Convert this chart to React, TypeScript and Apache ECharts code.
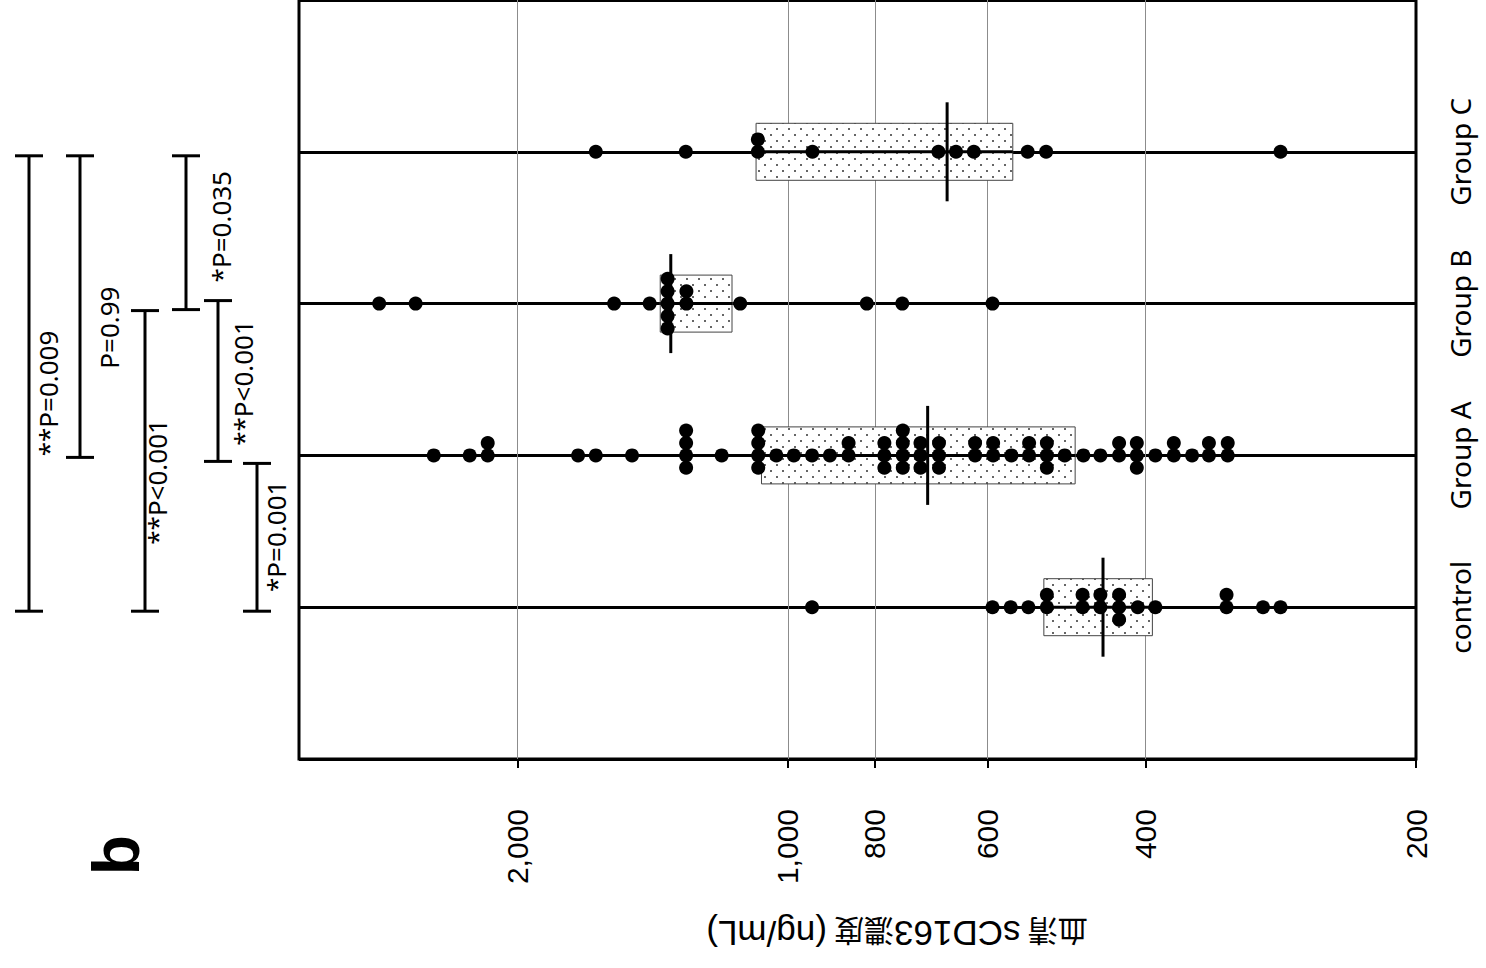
import React, { useEffect, useRef } from 'react';
import * as echarts from 'echarts';

// ---------- data ----------
const categories = ['', 'control', 'Group A', 'Group B', 'Group C', ' '];
const groupNames = ['control', 'Group A', 'Group B', 'Group C'];

const controlValues = [940, 592, 565, 540, 515, 515, 470, 470, 449, 449, 428, 428, 428, 408, 390, 325, 325, 296, 283];
const groupAValues = [
  2478, 2260, 2158, 2158, 1712, 1636, 1491, 1298, 1298, 1298, 1298, 1185, 1079, 1079, 1079, 1079,
  1030, 985, 940, 898, 856, 856, 781, 781, 781, 745, 745, 745, 745, 712, 712, 712, 679, 679, 679,
  619, 619, 591, 591, 564, 539, 539, 515, 515, 515, 492, 469, 449, 428, 428, 409, 409, 409, 390,
  372, 372, 355, 340, 340, 324, 324,
];
const groupBValues = [2850, 2596, 1561, 1425, 1361, 1361, 1361, 1361, 1361, 1297, 1297, 1130, 817, 746, 592];
const groupCValues = [1636, 1299, 1080, 1080, 939, 680, 650, 621, 541, 516, 283];
const groupValues = [controlValues, groupAValues, groupBValues, groupCValues];

const boxQ1 = [393, 479, 1154, 562];
const boxMedian = [446, 699, 1350, 665];
const boxQ3 = [519, 1070, 1387, 1085];

const tickValues = [200, 400, 600, 800, 1000, 2000];
const axisMin = 200;
const axisMax = 3500;

const compFrom = ['Group C', 'Group C', 'Group B', 'Group C', 'Group B', 'Group A'];
const compTo = ['control', 'Group A', 'control', 'Group B', 'Group A', 'control'];
const compLabels = ['**P=0.009', 'P=0.99', '**P<0.001', '*P=0.035', '**P<0.001', '*P=0.001'];

const axisTitle = '{c|血清} {l|sCD163}{c|濃度} {l|(ng/mL)}';
const panelLetter = 'b';

// ---------- layout (px) ----------
const bracketX = [29, 80, 145, 186, 218, 257];
const bracketNudge = [[4, 4], [4, 2], [7, 4], [4, 6], [-3, 6], [8, 4]];
const labelX = [48, 109, 157, 221, 243, 276];
const labelDy = [10, 21, 21, -6, 2, -1];
const CAP_HALF = 14;
const STACK_STEP = 12.4;
const BOX_HALF = 28.5;
const MED_HALF = 49.5;

export default function App() {
  const ref = useRef<HTMLDivElement>(null);

  useEffect(() => {
    const el = ref.current as HTMLDivElement;
    const chart = echarts.init(el, undefined, { renderer: 'svg' });

    const cv = document.createElement('canvas');
    cv.width = 12;
    cv.height = 12;
    const ctx = cv.getContext('2d') as CanvasRenderingContext2D;
    ctx.fillStyle = '#ffffff';
    ctx.fillRect(0, 0, 12, 12);
    ctx.fillStyle = '#666666';
    ctx.fillRect(2, 2, 2, 2);
    ctx.fillRect(8, 8, 2, 2);
    const pattern = { image: cv, repeat: 'repeat', imageWidth: 12, imageHeight: 12 };

    const scatterData: any[] = [];
    groupValues.forEach((vals, gi) => {
      const counts = new Map<number, number>();
      vals.forEach((v) => counts.set(v, (counts.get(v) || 0) + 1));
      counts.forEach((n, v) => {
        const start = -Math.floor(n / 2);
        for (let k = 0; k < n; k++) {
          scatterData.push({
            value: [v, categories.indexOf(groupNames[gi])],
            symbolOffset: [0, (start + k) * STACK_STEP],
          });
        }
      });
    });

    const boxData = groupNames.map((g, i) => [boxQ1[i], boxQ3[i], boxMedian[i], categories.indexOf(g)]);
    const tickLogs = tickValues.map((v) => Math.log10(v));

    const option: any = {
      animation: false,
      backgroundColor: '#ffffff',
      textStyle: { fontFamily: 'Noto Sans' },
      grid: {
        left: 299,
        right: 70,
        top: 0,
        bottom: 209,
        show: true,
        borderColor: '#000',
        borderWidth: 3,
        backgroundColor: 'transparent',
        containLabel: false,
        outerBoundsMode: 'none',
      },
      xAxis: [
        {
          type: 'log',
          logBase: 10,
          min: axisMin,
          max: axisMax,
          inverse: true,
          position: 'top',
          show: false,
        },
        {
          type: 'value',
          position: 'bottom',
          min: Math.log10(axisMin),
          max: Math.log10(axisMax),
          inverse: true,
          axisLine: { show: false },
          axisTick: {
            show: true,
            customValues: tickLogs,
            length: 9,
            inside: false,
            lineStyle: { color: '#000', width: 2 },
          },
          axisLabel: {
            show: true,
            customValues: tickLogs,
            rotate: 90,
            margin: 50,
            hideOverlap: false,
            showMinLabel: true,
            color: '#000',
            fontSize: 30,
            fontFamily: 'Liberation Sans',
            formatter: (v: number) => Math.round(Math.pow(10, v)).toLocaleString('en-US'),
          },
          splitLine: {
            show: true,
            showMinLine: false,
            lineStyle: { color: '#8c8c8c', width: 1 },
          },
        },
      ],
      yAxis: {
        type: 'category',
        data: categories,
        boundaryGap: false,
        position: 'right',
        axisLine: { show: false },
        axisTick: { show: false, interval: 0 },
        axisLabel: {
          interval: 0,
          rotate: 90,
          margin: 30,
          color: '#000',
          fontSize: 28,
          fontFamily: 'Noto Sans',
        },
        splitLine: { show: true, interval: 0, lineStyle: { color: '#000', width: 3 } },
      },
      series: [
        {
          type: 'custom',
          xAxisIndex: 0,
          yAxisIndex: 0,
          silent: true,
          data: boxData,
          encode: { x: [0, 1, 2], y: 3 },
          renderItem: (params: any, api: any) => {
            const cat = api.value(3);
            const pLow = api.coord([api.value(0), cat]);
            const pHigh = api.coord([api.value(1), cat]);
            const pMed = api.coord([api.value(2), cat]);
            const x0 = Math.min(pLow[0], pHigh[0]);
            const x1 = Math.max(pLow[0], pHigh[0]);
            const y = pLow[1];
            return {
              type: 'group',
              children: [
                {
                  type: 'rect',
                  shape: { x: x0, y: y - BOX_HALF, width: x1 - x0, height: BOX_HALF * 2 },
                  style: { fill: pattern, stroke: '#444', lineWidth: 1 },
                },
                {
                  type: 'line',
                  shape: { x1: x0, y1: y, x2: x1, y2: y },
                  style: { stroke: '#000', lineWidth: 3 },
                },
                {
                  type: 'line',
                  shape: { x1: pMed[0], y1: pMed[1] - MED_HALF, x2: pMed[0], y2: pMed[1] + MED_HALF },
                  style: { stroke: '#000', lineWidth: 3 },
                },
              ],
            };
          },
        },
        {
          type: 'scatter',
          xAxisIndex: 0,
          yAxisIndex: 0,
          silent: true,
          symbol: 'circle',
          symbolSize: 14,
          itemStyle: { color: '#000', opacity: 1 },
          data: scatterData,
        },
      ],
    };

    chart.setOption(option);

    const yOf = (name: string) => chart.convertToPixel({ yAxisIndex: 0 } as any, categories.indexOf(name)) as unknown as number;
    const graphics: any[] = [];
    compFrom.forEach((f, i) => {
      const yA = yOf(f) + bracketNudge[i][0];
      const yB = yOf(compTo[i]) + bracketNudge[i][1];
      const x = bracketX[i];
      const st = { stroke: '#000', lineWidth: 3 };
      graphics.push({ type: 'line', silent: true, shape: { x1: x, y1: yA, x2: x, y2: yB }, style: st });
      graphics.push({ type: 'line', silent: true, shape: { x1: x - CAP_HALF, y1: yA, x2: x + CAP_HALF, y2: yA }, style: st });
      graphics.push({ type: 'line', silent: true, shape: { x1: x - CAP_HALF, y1: yB, x2: x + CAP_HALF, y2: yB }, style: st });
      graphics.push({
        type: 'text',
        silent: true,
        x: labelX[i],
        y: (yA + yB) / 2 + labelDy[i],
        rotation: Math.PI / 2,
        style: {
          text: compLabels[i],
          fill: '#000',
          fontSize: 26,
          fontFamily: 'Noto Sans',
          align: 'center',
          verticalAlign: 'middle',
        },
      });
    });
    graphics.push({
      type: 'text',
      silent: true,
      x: 897,
      y: 933,
      rotation: Math.PI,
      style: {
        text: axisTitle,
        fill: '#000',
        fontSize: 32,
        fontFamily: 'Noto Sans CJK JP',
        align: 'center',
        verticalAlign: 'middle',
        rich: {
          c: { fontSize: 30, fontFamily: 'Noto Sans CJK JP', fill: '#000' },
          l: { fontSize: 35, fontFamily: 'Liberation Sans', fill: '#000' },
        },
      },
    });
    graphics.push({
      type: 'text',
      silent: true,
      x: 116,
      y: 855,
      rotation: Math.PI / 2,
      style: {
        text: panelLetter,
        fill: '#000',
        fontSize: 66,
        fontWeight: 'bold',
        fontFamily: 'Liberation Sans',
        align: 'center',
        verticalAlign: 'middle',
      },
    });
    chart.setOption({ graphic: graphics });

    return () => {
      chart.dispose();
    };
  }, []);

  return (
    <div
      ref={ref}
      style={{ position: 'absolute', left: 0, top: 0, width: 1486, height: 968 }}
    />
  );
}
